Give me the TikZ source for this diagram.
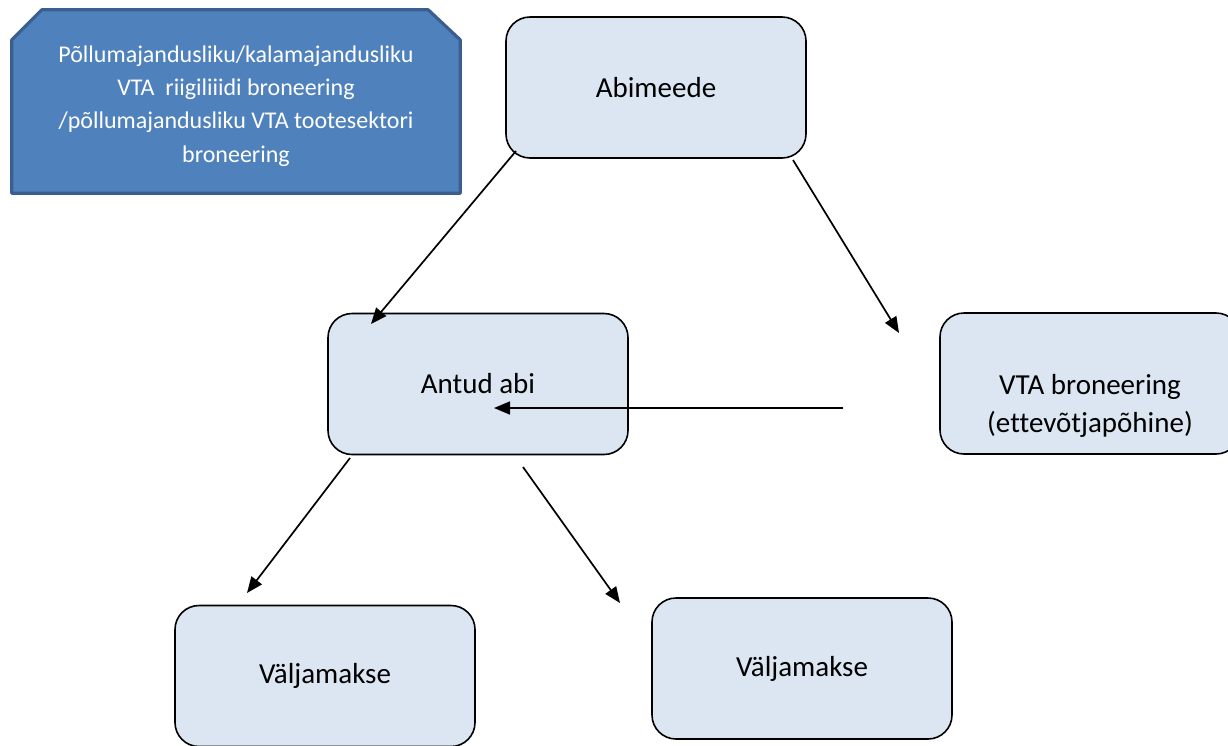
\documentclass[tikz,border=0pt]{standalone}
\usepackage{fontspec}
\setmainfont{Carlito}[Ligatures=CommonOff]
\usetikzlibrary{arrows.meta}
\definecolor{boxfill}{HTML}{DCE6F2}
\definecolor{plaquefill}{HTML}{4F81BD}
\definecolor{plaquedraw}{HTML}{3A5F8E}
\begin{document}
\begin{tikzpicture}[x=1pt,y=-1pt,
  rbox/.style={draw=black, line width=1.6pt, fill=boxfill, rounded corners=24pt,
    minimum width=300pt, minimum height=141pt, inner sep=0pt, align=center,
    font=\fontsize{29}{35.5}\selectfont},
  boxtext/.style={inner sep=0pt, align=center, font=\fontsize{29}{38}\selectfont},
  plaque/.style={minimum width=448pt, minimum height=183pt, inner sep=0pt, align=center,
    text=white, font=\fontsize{24}{33.3}\selectfont},
  plaqueshape/.style={draw=plaquedraw, line width=3.2pt, fill=plaquefill, line join=round},
  conn/.style={line width=1.7pt, -{Triangle[length=16pt,width=13pt]}}]
\useasboundingbox (0,0) rectangle (1228,745);
\node[plaque] (pl) at (236,101.5) {};
\path[plaqueshape] (pl.south west) -- ([yshift=-30pt]pl.north west) -- ([xshift=30pt]pl.north west)
  -- ([xshift=-32pt]pl.north east) -- ([yshift=-30pt]pl.north east) -- (pl.south east) -- cycle;
\node[plaque] (pltext) at (236,106) {Põllumajandusliku/kalamajandusliku\\VTA\ \ riigiliiidi broneering\\/põllumajandusliku VTA tootesektori\\broneering};
\node[rbox] (abim) at (656,87.5) {Abimeede};
\node[rbox] (abi) at (478,384) {Antud abi};
\node[rbox] (vta) at (1090,383.5) {};
\node[boxtext] (vtatext) at (1090,406) {VTA broneering\\(ettevõtjapõhine)};
\node[rbox] (v1) at (325,676) {Väljamakse};
\node[rbox] (v2) at (802,668.5) {Väljamakse};
\coordinate (a1s) at (516,151);
\coordinate (a1e) at (371,324);
\coordinate (a2s) at (793,160);
\coordinate (a2e) at (899,333);
\coordinate (a3s) at (843,408);
\coordinate (a3e) at (494,408);
\coordinate (a4s) at (350,458);
\coordinate (a4e) at (247,593);
\coordinate (a5s) at (523,467);
\coordinate (a5e) at (620,603);
\draw[conn] (a1s) -- (a1e);
\draw[conn] (a2s) -- (a2e);
\draw[conn] (a3s) -- (a3e);
\draw[conn] (a4s) -- (a4e);
\draw[conn] (a5s) -- (a5e);
\end{tikzpicture}
\end{document}
